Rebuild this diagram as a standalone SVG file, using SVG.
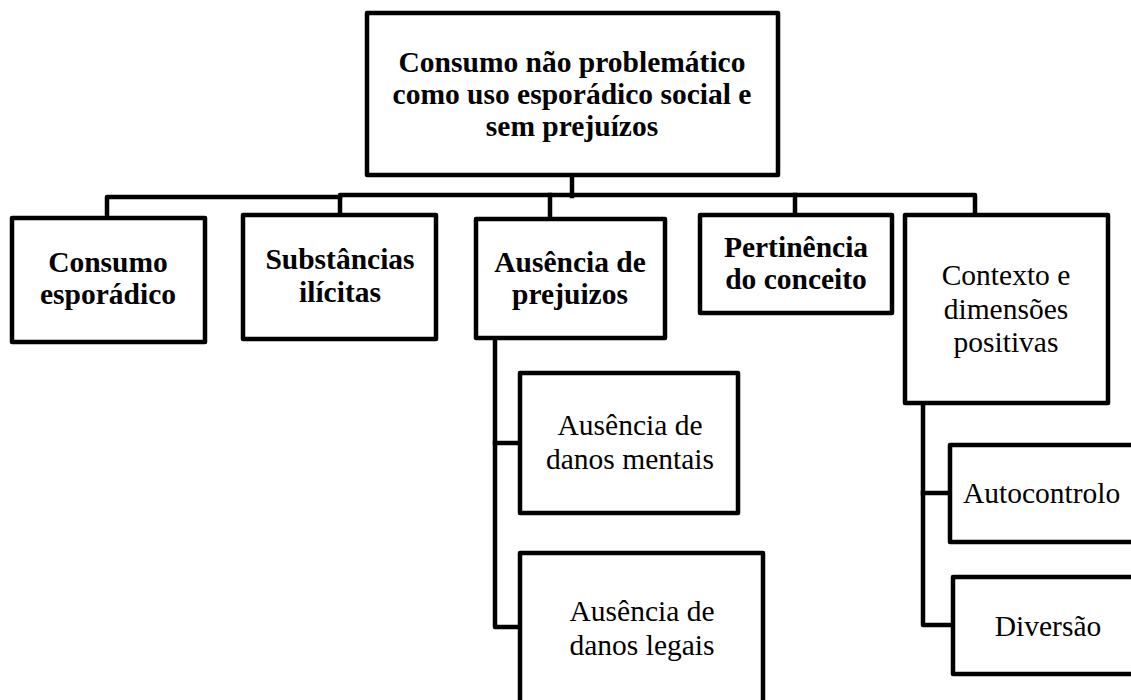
<svg xmlns="http://www.w3.org/2000/svg" width="1131" height="700" viewBox="0 0 1131 700">
<style>
.box{fill:#fff;stroke:#000;stroke-width:4.5;stroke-linejoin:round}
.con{fill:none;stroke:#000;stroke-width:4.5;stroke-linejoin:round;stroke-linecap:square}
.b{font-family:"Liberation Serif","Times New Roman",serif;font-weight:bold;font-size:29.5px;fill:#000;text-anchor:middle}
.r{font-family:"Liberation Serif","Times New Roman",serif;font-size:29.5px;fill:#000;text-anchor:middle}
</style>
<rect width="1131" height="700" fill="#fff"/>
<g id="connectors">
<path class="con" d="M572,175 V196"/>
<path class="con" d="M107,218 V197 H340"/>
<path class="con" d="M340,215 V195 H975 V215"/>
<path class="con" d="M550,195 V218"/>
<path class="con" d="M795,195 V215"/>
<path class="con" d="M495,338 V627 H520"/>
<path class="con" d="M495,443 H520"/>
<path class="con" d="M923,403 V625 H952"/>
<path class="con" d="M923,493 H950"/>
</g>
<g id="root">
<rect class="box" x="367" y="13" width="411" height="162"/>
<text class="b" x="572" y="72">Consumo não problemático</text>
<text class="b" x="572" y="104">como uso esporádico social e</text>
<text class="b" x="572" y="136">sem prejuízos</text>
</g>
<g id="consumo">
<rect class="box" x="12" y="218" width="193" height="124"/>
<text class="b" x="108" y="272">Consumo</text>
<text class="b" x="108" y="304">esporádico</text>
</g>
<g id="substancias">
<rect class="box" x="243" y="215" width="193" height="124"/>
<text class="b" x="340" y="269">Substâncias</text>
<text class="b" x="340" y="302">ilícitas</text>
</g>
<g id="ausencia">
<rect class="box" x="476" y="219" width="189" height="119"/>
<text class="b" x="570" y="272">Ausência de</text>
<text class="b" x="570" y="304">prejuizos</text>
</g>
<g id="pertinencia">
<rect class="box" x="700" y="215" width="192" height="98"/>
<text class="b" x="796" y="257">Pertinência</text>
<text class="b" x="796" y="289">do conceito</text>
</g>
<g id="contexto">
<rect class="box" x="905" y="215" width="203" height="188"/>
<text class="r" x="1006" y="285">Contexto e</text>
<text class="r" x="1006" y="319">dimensões</text>
<text class="r" x="1006" y="352">positivas</text>
</g>
<g id="mentais">
<rect class="box" x="520" y="373" width="218" height="140"/>
<text class="r" x="630" y="435">Ausência de</text>
<text class="r" x="630" y="469">danos mentais</text>
</g>
<g id="legais">
<rect class="box" x="520" y="553" width="243" height="160"/>
<text class="r" x="642" y="621">Ausência de</text>
<text class="r" x="642" y="655">danos legais</text>
</g>
<g id="autocontrolo">
<rect class="box" x="950" y="445" width="200" height="97"/>
<text class="r" x="963" y="503" style="text-anchor:start">Autocontrolo</text>
</g>
<g id="diversao">
<rect class="box" x="953" y="577" width="200" height="97"/>
<text class="r" x="1048" y="636">Diversão</text>
</g>
</svg>
